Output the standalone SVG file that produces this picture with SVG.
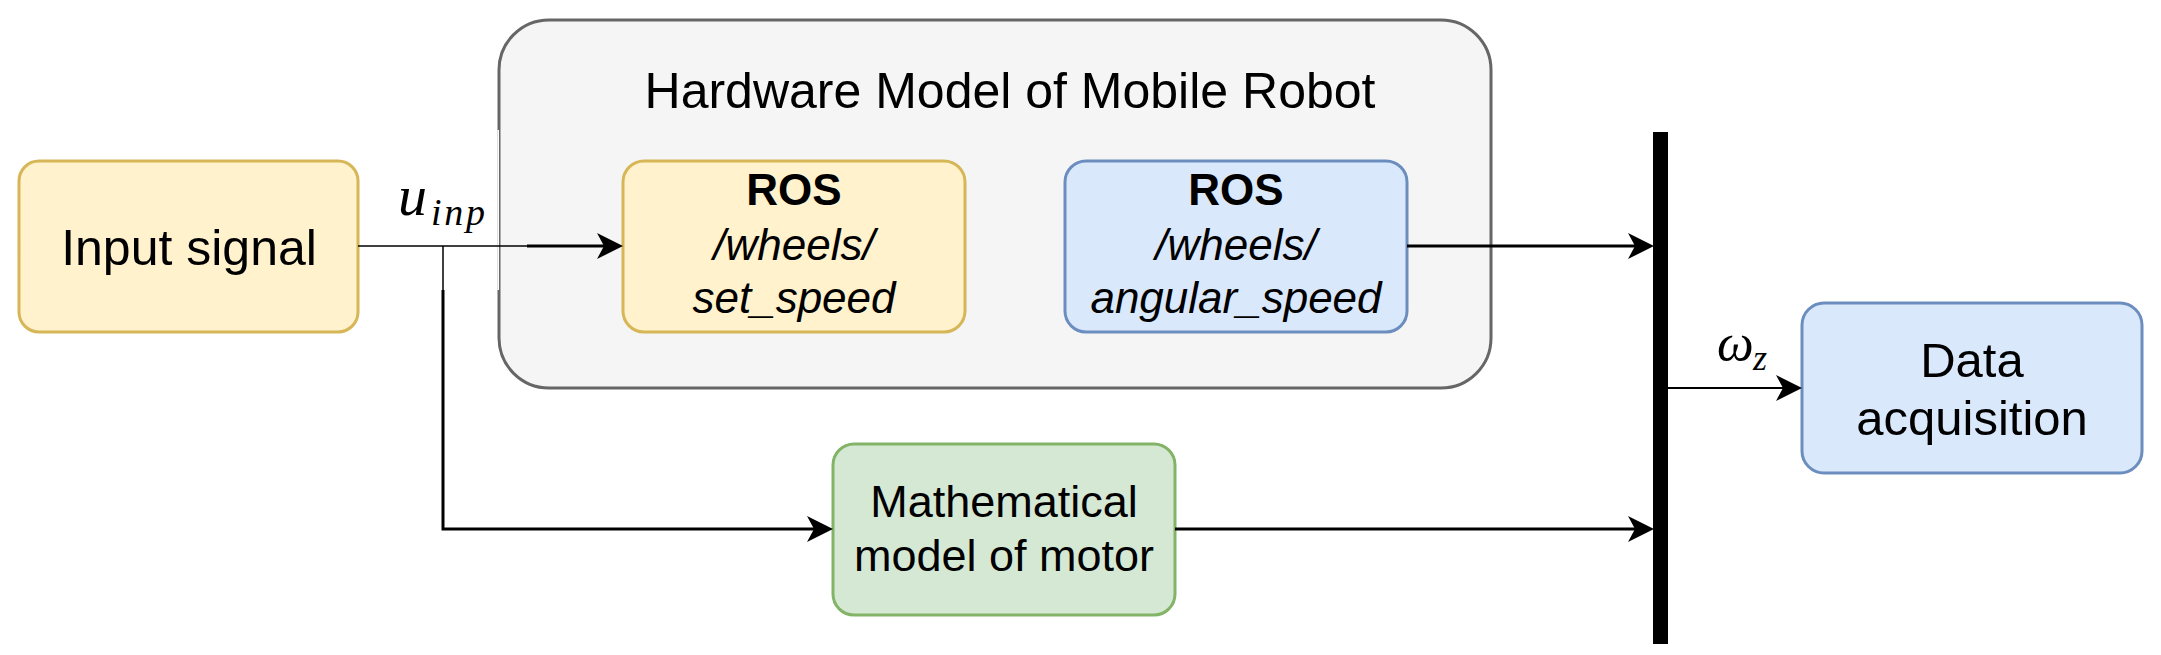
<svg xmlns="http://www.w3.org/2000/svg" width="2161" height="655" viewBox="0 0 2161 655">
<style>
.t{font-family:"Liberation Sans",Arial,sans-serif;fill:#000;text-anchor:middle}
.m{font-family:"Liberation Serif","Times New Roman",serif;font-style:italic;fill:#000}
.ln{fill:none;stroke:#000;stroke-width:3}
.thin{fill:none;stroke:#000;stroke-width:1.5}
.yel{fill:#fff2cc;stroke:#d6b656;stroke-width:3}
.blu{fill:#dae8fc;stroke:#6c8ebf;stroke-width:3}
.grn{fill:#d5e8d4;stroke:#82b366;stroke-width:3}
</style>
<defs>
<marker id="arr" viewBox="0 0 26 26" markerUnits="userSpaceOnUse" markerWidth="26" markerHeight="26" refX="7" refY="13" orient="auto">
<path d="M0,0 L26,13 L0,26 L7,13 Z" fill="#000"/>
</marker>
</defs>
<rect width="2161" height="655" fill="#fff"/>
<g id="hardware">
<rect x="499" y="20" width="992" height="368" rx="50" fill="#f5f5f5" stroke="#666666" stroke-width="3"/>
<line x1="498.2" y1="130" x2="498.2" y2="290" stroke="#fff" stroke-width="1.6"/>
<text class="t" x="1010" y="108" font-size="50">Hardware Model of Mobile Robot</text>
</g>
<g id="input-signal">
<rect class="yel" x="19" y="161" width="339" height="171" rx="20"/>
<text class="t" x="189" y="265" font-size="50">Input signal</text>
</g>
<g id="ros-set-speed">
<rect class="yel" x="623" y="161" width="342" height="171" rx="21"/>
<text class="t" x="794" y="205" font-size="44" font-weight="bold">ROS</text>
<text class="t" x="794" y="260" font-size="44" font-style="italic">/wheels/</text>
<text class="t" x="794" y="313" font-size="44" font-style="italic">set_speed</text>
</g>
<g id="ros-angular-speed">
<rect class="blu" x="1065" y="161" width="342" height="171" rx="21"/>
<text class="t" x="1236" y="205" font-size="44" font-weight="bold">ROS</text>
<text class="t" x="1236" y="260" font-size="44" font-style="italic">/wheels/</text>
<text class="t" x="1236" y="313" font-size="44" font-style="italic">angular_speed</text>
</g>
<g id="math-model">
<rect class="grn" x="833" y="444" width="342" height="171" rx="21"/>
<text class="t" x="1004" y="517" font-size="45">Mathematical</text>
<text class="t" x="1004" y="571" font-size="45">model of motor</text>
</g>
<g id="data-acquisition">
<rect class="blu" x="1802" y="303" width="340" height="170" rx="22"/>
<text class="t" x="1972" y="377" font-size="49">Data</text>
<text class="t" x="1972" y="435" font-size="49">acquisition</text>
</g>
<g id="bar">
<rect x="1653" y="132" width="15" height="512" fill="#000"/>
</g>
<g id="connectors">
<path class="thin" d="M358,246 H527"/>
<path class="ln" d="M527,246 H604" marker-end="url(#arr)"/>
<path class="thin" d="M443,246 V290"/>
<path class="ln" d="M443,290 V529 H814" marker-end="url(#arr)"/>
<path class="ln" d="M1407,246 H1635" marker-end="url(#arr)"/>
<path class="ln" d="M1175,529 H1635" marker-end="url(#arr)"/>
<path fill="none" stroke="#000" stroke-width="2" d="M1668,388 H1783" marker-end="url(#arr)"/>
</g>
<g id="labels">
<text class="m" x="398" y="215" font-size="58">u</text>
<text class="m" x="431" y="225" font-size="38" textLength="54">inp</text>
<text class="m" x="1717" y="360" font-size="52" textLength="32">ω</text>
<text class="m" x="1753" y="370" font-size="36">z</text>
</g>
</svg>
